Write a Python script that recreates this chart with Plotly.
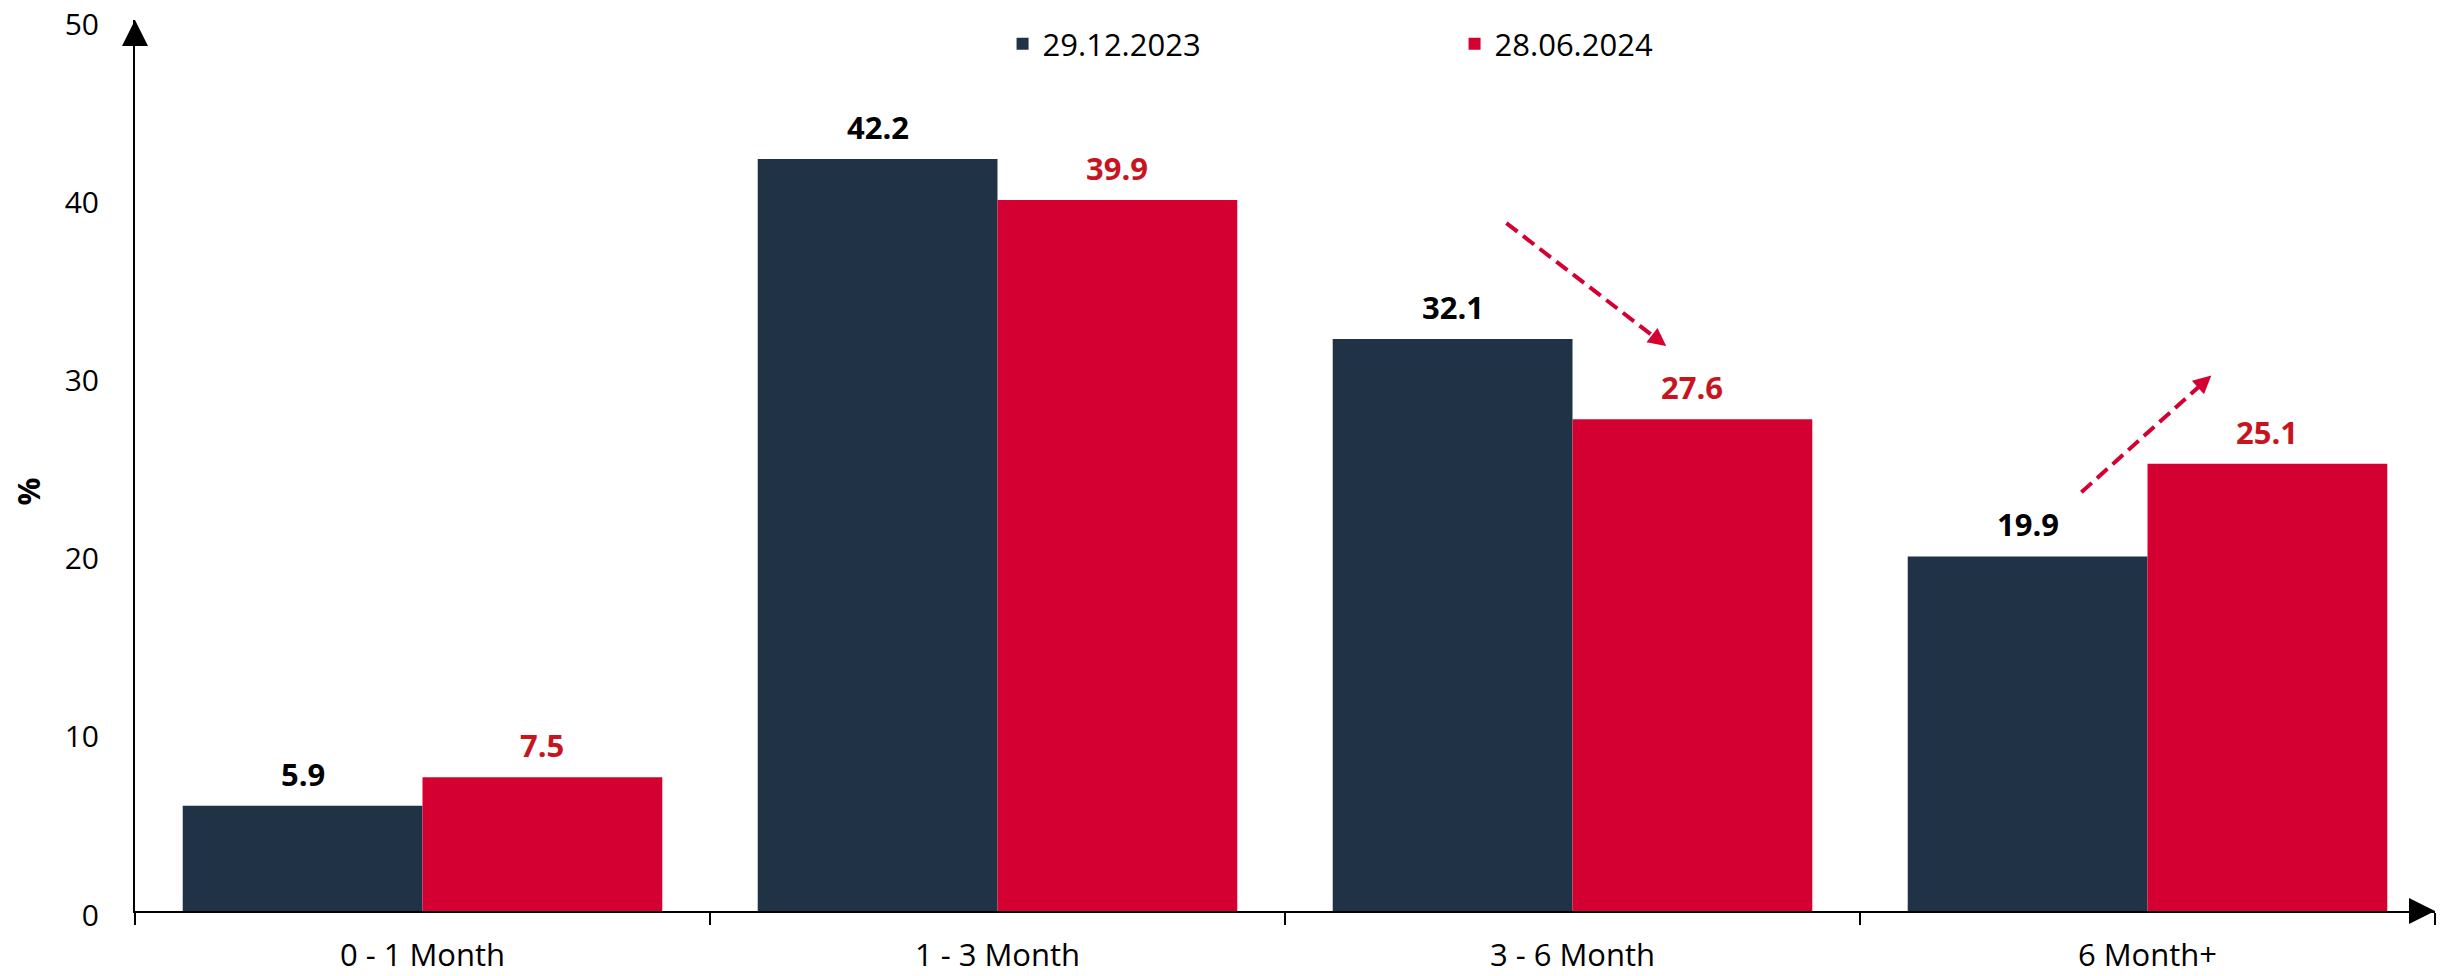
import plotly.graph_objects as go

categories = ["0 - 1 Month", "1 - 3 Month", "3 - 6 Month", "6 Month+"]
series_names = ["29.12.2023", "28.06.2024"]
values_2023 = [5.9, 42.2, 32.1, 19.9]
values_2024 = [7.5, 39.9, 27.6, 25.1]
y_ticks = [0, 10, 20, 30, 40, 50]

NAVY = "#1F3246"
RED = "#D50032"
RED_TXT = "#C8141E"
FONT = "Open Sans"
BARGAP = 0.166

fig = go.Figure()
fig.add_trace(go.Bar(x=categories, y=values_2023, name=series_names[0],
                     marker=dict(color=NAVY, line=dict(width=0))))
fig.add_trace(go.Bar(x=categories, y=values_2024, name=series_names[1],
                     marker=dict(color=RED, line=dict(width=0))))

annotations = []
off = (1 - BARGAP) / 4
for i, (a, b) in enumerate(zip(values_2023, values_2024)):
    annotations.append(dict(x=i - off, y=a, xref="x", yref="y", text=f"<b>{a:.1f}</b>",
                            showarrow=False, xanchor="center", yanchor="bottom", yshift=9,
                            font=dict(family=FONT, size=31, color="#000000")))
    annotations.append(dict(x=i + off, y=b, xref="x", yref="y", text=f"<b>{b:.1f}</b>",
                            showarrow=False, xanchor="center", yanchor="bottom", yshift=9,
                            font=dict(family=FONT, size=31, color=RED_TXT)))

# trend arrows (start -> tip) in axis units
trend_arrows = [((1.885, 38.6), (2.163, 31.7)), ((2.885, 23.5), (3.111, 30.05))]
shapes = []
for (x0, y0), (x1, y1) in trend_arrows:
    f = 0.07
    shapes.append(dict(type="line", xref="x", yref="y", x0=x0, y0=y0,
                       x1=x1 - f * (x1 - x0), y1=y1 - f * (y1 - y0),
                       line=dict(color=RED, width=4, dash="14px,7px")))
    g = 0.04
    annotations.append(dict(x=x1, y=y1, ax=x1 - g * (x1 - x0), ay=y1 - g * (y1 - y0),
                            xref="x", yref="y", axref="x", ayref="y", text="",
                            showarrow=True, arrowhead=2, arrowsize=0.9, arrowwidth=4,
                            arrowcolor=RED, standoff=0))

# axis arrowheads
shapes.append(dict(type="path", xref="paper", yref="paper", xsizemode="pixel", ysizemode="pixel",
                   xanchor=0, yanchor=1, path="M -13,-26 L 13,-26 L 0,0 Z",
                   fillcolor="#000000", line=dict(width=0)))
shapes.append(dict(type="path", xref="paper", yref="paper", xsizemode="pixel", ysizemode="pixel",
                   xanchor=1, yanchor=0, path="M -26,13 L -26,-13 L 0,0 Z",
                   fillcolor="#000000", line=dict(width=0)))

annotations.append(dict(x=0, y=0.5, xref="paper", yref="paper", text="<b>%</b>",
                        textangle=-90, showarrow=False, xanchor="center", yanchor="middle",
                        xshift=-108, yshift=-26,
                        font=dict(family=FONT, size=31, color="#000000")))

fig.update_layout(
    width=2458, height=976,
    margin=dict(l=135, r=23, t=20, b=65),
    paper_bgcolor="white", plot_bgcolor="white",
    barmode="group", bargap=BARGAP, bargroupgap=0,
    font=dict(family=FONT, size=31, color="#000000"),
    showlegend=True,
    legend=dict(orientation="h", x=0.3772, xanchor="left", y=0.973, yanchor="middle",
                entrywidth=407, font=dict(family=FONT, size=31, color="#000000"),
                bgcolor="rgba(0,0,0,0)"),
    xaxis=dict(type="category", range=[-0.5, 3.5], showline=True, linecolor="#000000",
               linewidth=2, ticks="outside", tickson="boundaries", ticklen=12,
               tickwidth=2, tickcolor="#000000", showgrid=False, zeroline=False,
               automargin=False, ticklabelstandoff=16, tickfont=dict(family=FONT, size=31)),
    yaxis=dict(range=[0, 50], tickvals=y_ticks, showline=True, linecolor="#000000",
               linewidth=2, ticks="", showgrid=False, zeroline=False, automargin=False,
               ticklabeloverflow="allow", ticklabelstandoff=28, ticklabelshift=4,
               tickfont=dict(family=FONT, size=30)),
    annotations=annotations, shapes=shapes,
)

fig.write_html("out.html", config={"displayModeBar": False},
               post_script="document.body.style.margin='0';")
